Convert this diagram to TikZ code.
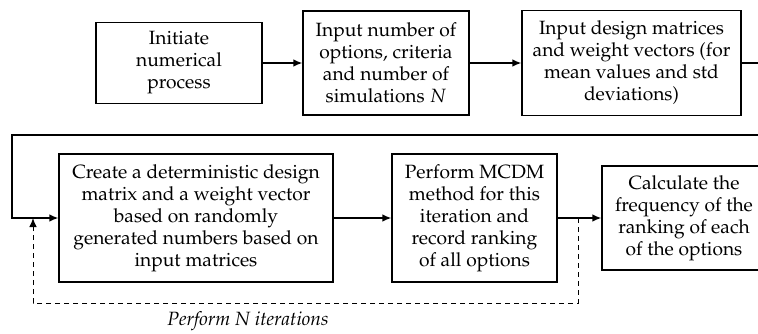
\documentclass[tikz,border=0pt]{standalone}
\usepackage[T1]{fontenc}
\usepackage{mathpazo}
\usetikzlibrary{arrows.meta}

\begin{document}
\begin{tikzpicture}[x=1pt, y=-1pt, line width=1.3pt, font=\fontsize{19.2}{22}\selectfont,
  procbox/.style={draw, align=center, inner sep=0pt},
  flow/.style={-{Latex[length=9pt,width=7.5pt]}},
  iterline/.style={flow, dash pattern=on 5pt off 4pt, line width=1pt}]
	\useasboundingbox (0,0) rectangle (758,333);
	\clip (0,0) rectangle (758,333);
	\node[procbox, minimum width=166pt, minimum height=81pt] (init) at (179,63) {Initiate\\numerical\\process};
	\node[procbox, minimum width=166pt, minimum height=104pt] (opts) at (386,63) {Input number of\\options, criteria\\and number of\\simulations $N$};
	\node[procbox, minimum width=219pt, minimum height=105pt] (mats) at (631.5,63) {Input design matrices\\and weight vectors (for\\mean values and std\\deviations)};
	\node[procbox, minimum width=274pt, minimum height=128pt] (create) at (196,218) {Create a deterministic design\\matrix and a weight vector\\based on randomly\\generated numbers based on\\input matrices};
	\node[procbox, minimum width=165pt, minimum height=128pt] (mcdm) at (474.5,218) {Perform MCDM\\method for this\\iteration and\\record ranking\\of all options};
	\node[procbox, minimum width=164pt, minimum height=104pt] (freq) at (684,218) {Calculate the\\frequency of the\\ranking of each\\of the options};
	\node[font=\fontsize{19.2}{22}\selectfont\itshape] (iter) at (248,321) {Perform N iterations};
	\coordinate (rtop) at (790,135);
	\coordinate (ltop) at (12,135);
	\coordinate (split) at (578,218);
	\coordinate (join) at (33,218);
	\coordinate (dbot) at (578,303);
	\draw[flow] (init) -- (opts);
	\draw[flow] (opts) -- (mats);
	\draw[flow] (mats.east) -| (rtop) -- (ltop) |- (create.west);
	\draw[flow] (create) -- (mcdm);
	\draw[flow] (mcdm) -- (freq);
	\draw[iterline] (split) -- (dbot) -| (join);
\end{tikzpicture}
\end{document}
